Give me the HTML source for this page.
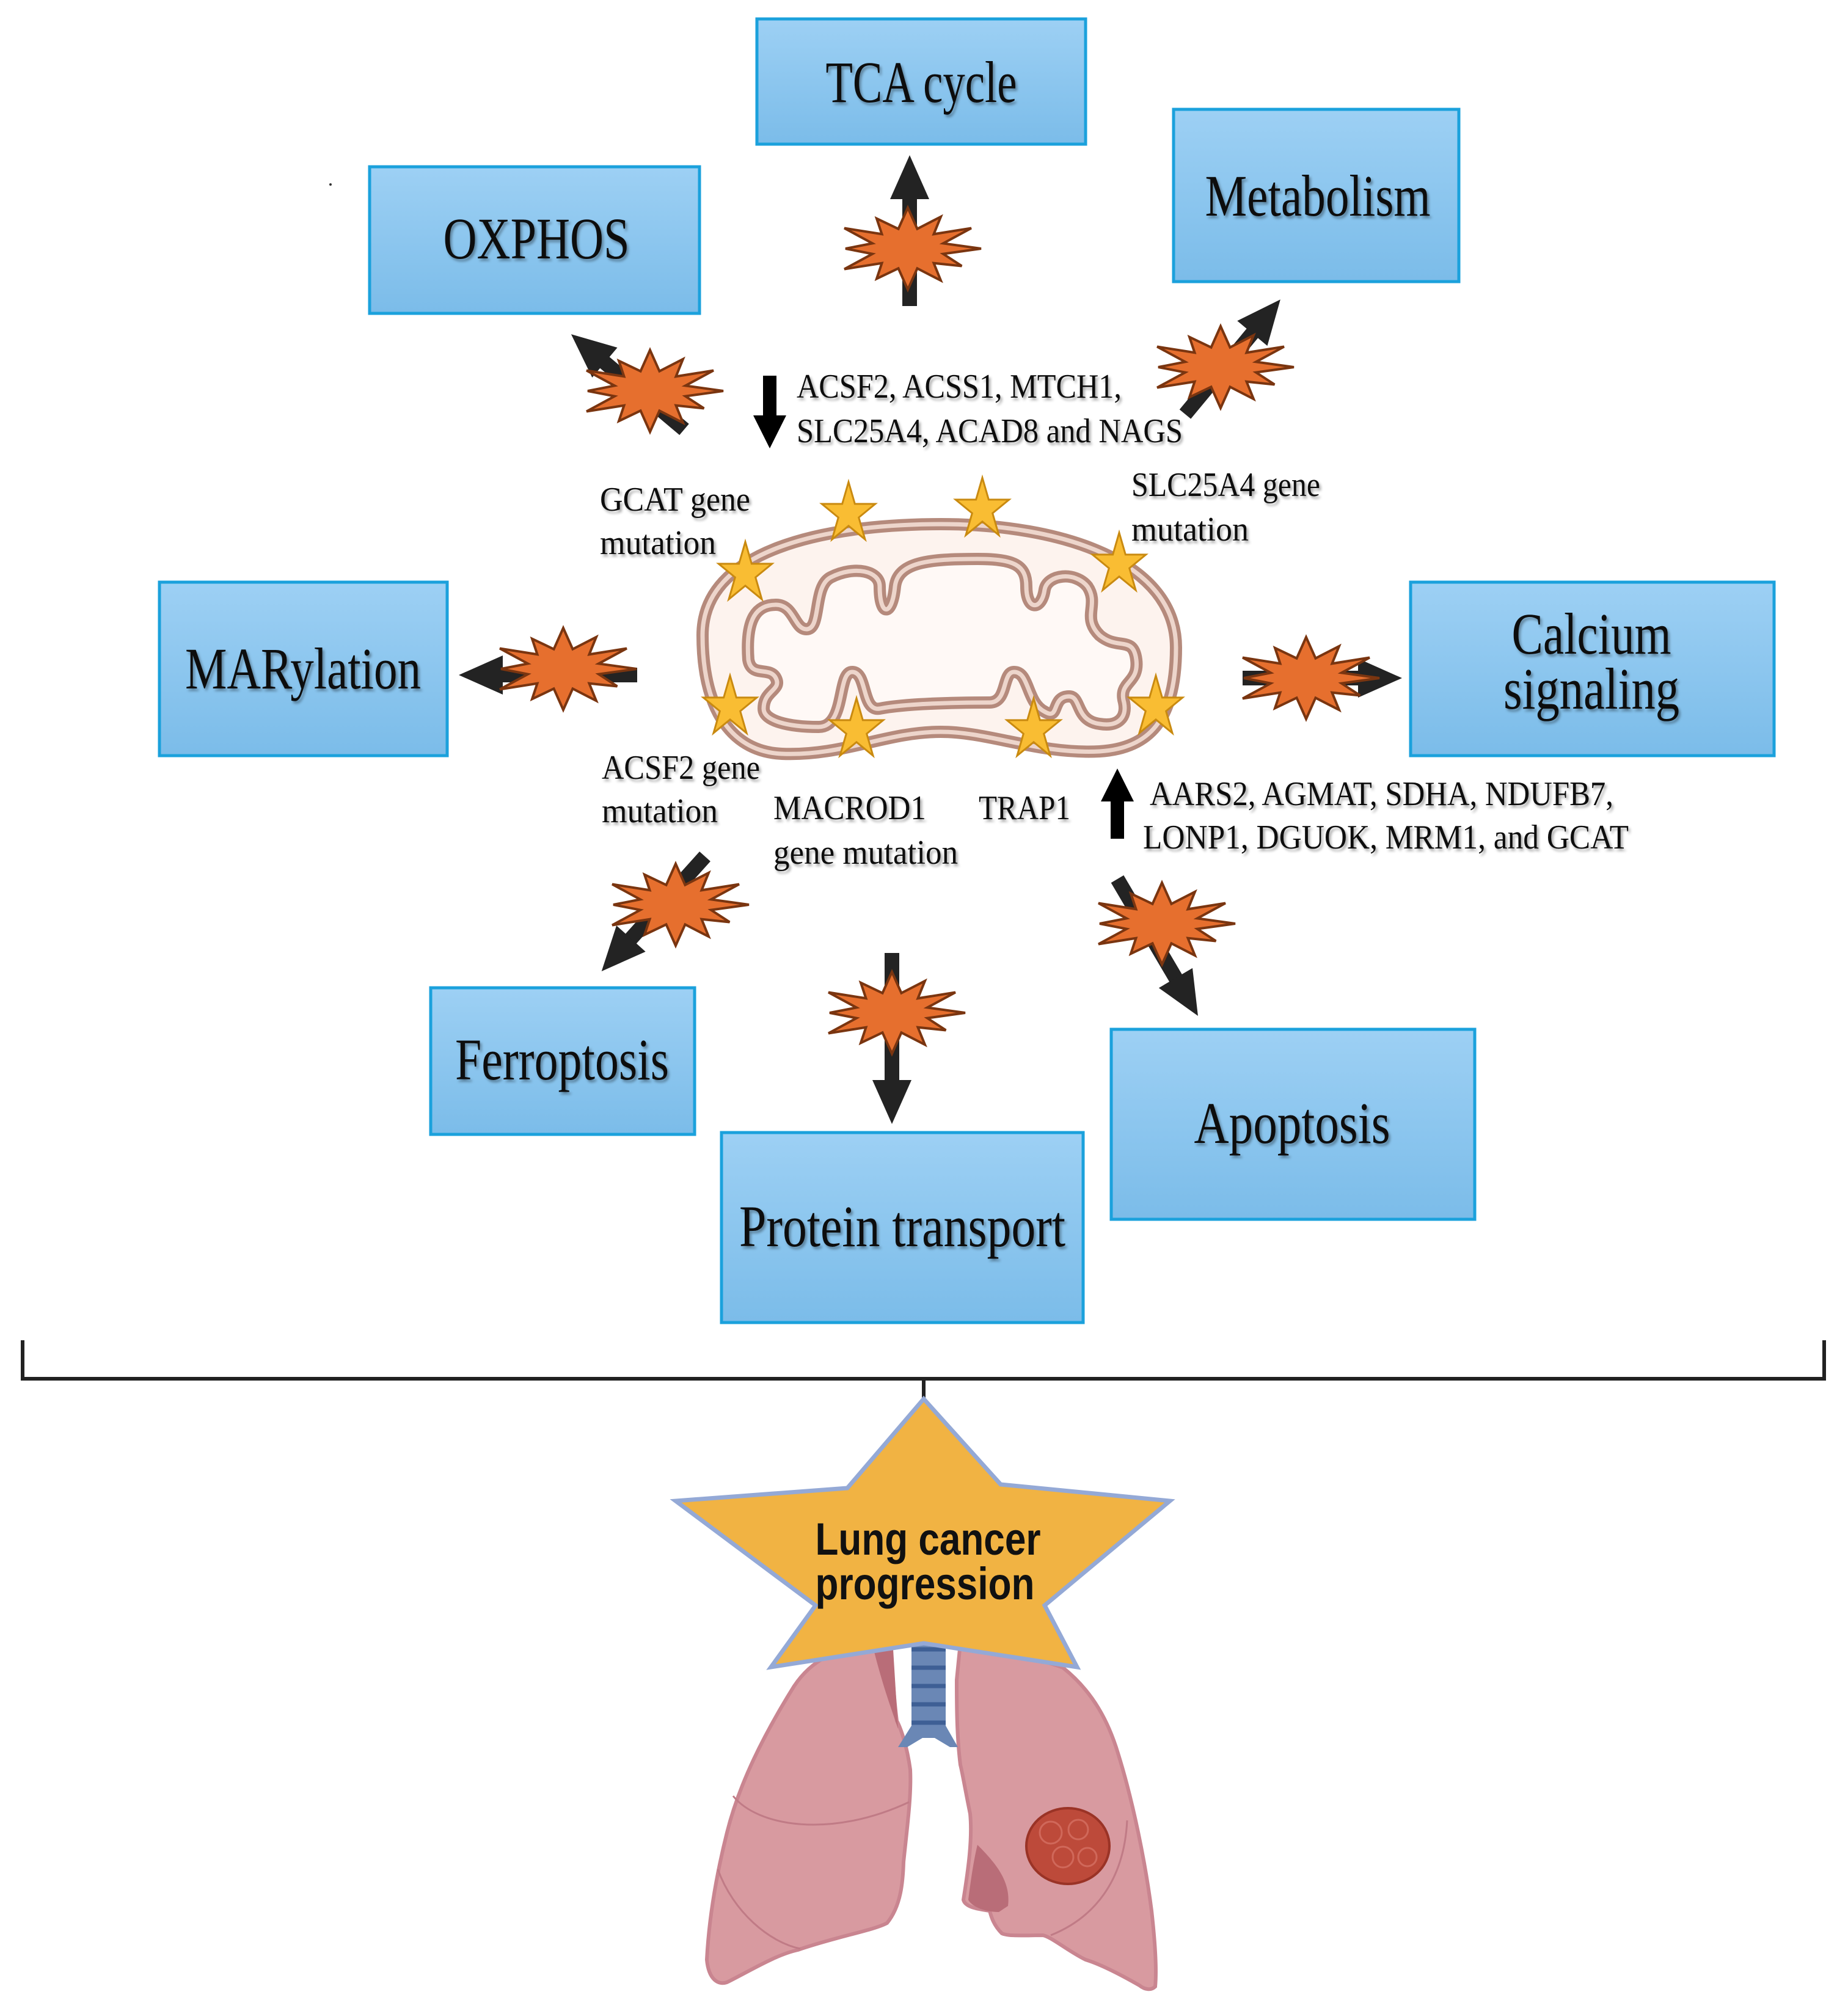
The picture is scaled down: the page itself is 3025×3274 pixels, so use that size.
<!DOCTYPE html>
<html><head><meta charset="utf-8"><style>html,body{margin:0;padding:0;background:#fff}svg{display:block}</style></head>
<body>
<svg width="3025" height="3274" viewBox="0 0 3025 3274" xmlns="http://www.w3.org/2000/svg">
<defs>
<linearGradient id="bx" x1="0" y1="0" x2="0" y2="1"><stop offset="0" stop-color="#9dd0f4"/><stop offset="1" stop-color="#7bbce9"/></linearGradient>
<filter id="sh" x="-10%" y="-10%" width="120%" height="130%"><feDropShadow dx="3" dy="4" stdDeviation="2" flood-color="#000" flood-opacity="0.35"/></filter>
<polygon id="burst" points="1,0 .483,.129 .736,.425 .354,.354 .45,.779 .129,.483 0,1 -.129,.483 -.425,.736 -.354,.354 -.866,.5 -.483,.129 -.85,0 -.483,-.129 -.866,-.5 -.354,-.354 -.425,-.736 -.129,-.483 0,-1 .129,-.483 .45,-.779 .354,-.354 .866,-.5 .483,-.129" fill="#e66f2e" stroke="#7a3510" stroke-width="4" vector-effect="non-scaling-stroke"/>
<polygon id="ystar" points="0,-1 .225,-.309 .951,-.309 .363,.118 .588,.809 0,.382 -.588,.809 -.363,.118 -.951,-.309 -.225,-.309" fill="#f9bd33" stroke="#c98a10" stroke-width="3" vector-effect="non-scaling-stroke"/>
</defs>

<g stroke="#1ba1dc" stroke-width="5" fill="url(#bx)">
<rect x="1239" y="31" width="538" height="205"/>
<rect x="605" y="273" width="540" height="240"/>
<rect x="1921" y="179" width="467" height="282"/>
<rect x="261" y="953" width="471" height="284"/>
<rect x="2309" y="953" width="595" height="284"/>
<rect x="705" y="1617" width="432" height="240"/>
<rect x="1181" y="1854" width="592" height="311"/>
<rect x="1819" y="1685" width="595" height="311"/>
</g>
<g font-family="'Liberation Serif',serif" font-size="96" fill="#111" text-anchor="middle" filter="url(#sh)" lengthAdjust="spacingAndGlyphs">
<text x="1508" y="167" textLength="313" lengthAdjust="spacingAndGlyphs">TCA cycle</text>
<text x="878" y="423" textLength="305" lengthAdjust="spacingAndGlyphs">OXPHOS</text>
<text x="2157" y="353" textLength="369" lengthAdjust="spacingAndGlyphs">Metabolism</text>
<text x="496" y="1127" textLength="386" lengthAdjust="spacingAndGlyphs">MARylation</text>
<text x="2605" y="1070" textLength="261" lengthAdjust="spacingAndGlyphs">Calcium</text>
<text x="2605" y="1160" textLength="288" lengthAdjust="spacingAndGlyphs">signaling</text>
<text x="920" y="1767" textLength="350" lengthAdjust="spacingAndGlyphs">Ferroptosis</text>
<text x="1477" y="2040" textLength="534" lengthAdjust="spacingAndGlyphs">Protein transport</text>
<text x="2115" y="1871" textLength="321" lengthAdjust="spacingAndGlyphs">Apoptosis</text>
</g>

<!-- mitochondrion -->
<path d="M1150,1040 C1150,900 1350,858 1540,858 C1740,858 1925,920 1925,1060 C1925,1180 1880,1225 1800,1230 C1700,1235 1620,1198 1540,1198 C1450,1198 1380,1238 1280,1234 C1190,1230 1150,1150 1150,1040 Z" fill="#fdf3ee" stroke="#b58a7c" stroke-width="20"/>
<path d="M1150,1040 C1150,900 1350,858 1540,858 C1740,858 1925,920 1925,1060 C1925,1180 1880,1225 1800,1230 C1700,1235 1620,1198 1540,1198 C1450,1198 1380,1238 1280,1234 C1190,1230 1150,1150 1150,1040 Z" fill="none" stroke="#edd5cb" stroke-width="7"/>
<g fill="#fff9f6">
<path id="inner" d="M1225,1080 C1220,1010 1240,990 1270,990 C1300,990 1300,1030 1320,1030 C1345,1030 1330,960 1360,945 C1400,925 1440,935 1440,960 C1440,1010 1460,1010 1465,960 C1470,920 1520,915 1600,915 C1660,915 1680,925 1680,960 C1680,1000 1705,1000 1710,965 C1715,940 1760,935 1780,960 C1800,990 1770,1010 1800,1040 C1830,1065 1855,1040 1860,1080 C1865,1120 1830,1115 1840,1150 C1845,1175 1830,1190 1800,1185 C1760,1180 1770,1140 1750,1140 C1720,1140 1735,1180 1710,1165 C1680,1150 1685,1100 1660,1100 C1640,1100 1650,1150 1620,1150 C1560,1150 1480,1152 1440,1160 C1410,1165 1420,1100 1395,1100 C1370,1100 1385,1190 1340,1190 C1290,1190 1250,1180 1250,1160 C1250,1130 1280,1130 1270,1110 C1260,1090 1230,1110 1225,1080 Z" stroke="#b58a7c" stroke-width="20"/>
</g>
<path d="M1225,1080 C1220,1010 1240,990 1270,990 C1300,990 1300,1030 1320,1030 C1345,1030 1330,960 1360,945 C1400,925 1440,935 1440,960 C1440,1010 1460,1010 1465,960 C1470,920 1520,915 1600,915 C1660,915 1680,925 1680,960 C1680,1000 1705,1000 1710,965 C1715,940 1760,935 1780,960 C1800,990 1770,1010 1800,1040 C1830,1065 1855,1040 1860,1080 C1865,1120 1830,1115 1840,1150 C1845,1175 1830,1190 1800,1185 C1760,1180 1770,1140 1750,1140 C1720,1140 1735,1180 1710,1165 C1680,1150 1685,1100 1660,1100 C1640,1100 1650,1150 1620,1150 C1560,1150 1480,1152 1440,1160 C1410,1165 1420,1100 1395,1100 C1370,1100 1385,1190 1340,1190 C1290,1190 1250,1180 1250,1160 C1250,1130 1280,1130 1270,1110 C1260,1090 1230,1110 1225,1080 Z" fill="none" stroke="#edd5cb" stroke-width="7"/>

<!-- yellow stars -->
<use href="#ystar" transform="translate(1220,939) scale(46,52)"/>
<use href="#ystar" transform="translate(1389,841) scale(46,52)"/>
<use href="#ystar" transform="translate(1608,834) scale(46,52)"/>
<use href="#ystar" transform="translate(1832,924) scale(46,52)"/>
<use href="#ystar" transform="translate(1195,1158) scale(46,52)"/>
<use href="#ystar" transform="translate(1402,1195) scale(46,52)"/>
<use href="#ystar" transform="translate(1692,1195) scale(46,52)"/>
<use href="#ystar" transform="translate(1892,1158) scale(46,52)"/>

<!-- arrows -->
<g fill="#232323">
<g transform="translate(1489,501) rotate(-90)"><rect x="0" y="-12" width="180" height="24"/><polygon points="175,-32 247,0 175,32"/></g>
<g transform="translate(1120,703) rotate(-139.9)"><rect x="0" y="-12" width="175" height="24"/><polygon points="170,-32 242,0 170,32"/></g>
<g transform="translate(1940,678) rotate(-50.3)"><rect x="0" y="-12" width="177" height="24"/><polygon points="172,-32 244,0 172,32"/></g>
<g transform="translate(1043,1105) rotate(180)"><rect x="0" y="-12" width="225" height="24"/><polygon points="220,-32 292,0 220,32"/></g>
<g transform="translate(2034,1110)"><rect x="0" y="-12" width="194" height="24"/><polygon points="189,-32 261,0 189,32"/></g>
<g transform="translate(1154,1402) rotate(132)"><rect x="0" y="-12" width="186" height="24"/><polygon points="181,-32 253,0 181,32"/></g>
<g transform="translate(1460,1560) rotate(90)"><rect x="0" y="-12" width="213" height="24"/><polygon points="208,-32 280,0 208,32"/></g>
<g transform="translate(1829,1439) rotate(59.5)"><rect x="0" y="-12" width="193" height="24"/><polygon points="188,-32 260,0 188,32"/></g>
</g>
<g fill="#000">
<g transform="translate(1260,615) rotate(90)"><rect x="0" y="-11" width="70" height="22"/><polygon points="65,-27 119,0 65,27"/></g>
<g transform="translate(1829,1373) rotate(-90)"><rect x="0" y="-11" width="66" height="22"/><polygon points="61,-27 115,0 61,27"/></g>
</g>

<!-- bursts -->
<use href="#burst" transform="translate(1486,407) scale(120,67)"/>
<use href="#burst" transform="translate(1064,640) scale(120,67)"/>
<use href="#burst" transform="translate(1998,601) scale(120,67)"/>
<use href="#burst" transform="translate(922,1095) scale(120,67)"/>
<use href="#burst" transform="translate(2138,1110) scale(120,67)"/>
<use href="#burst" transform="translate(1106,1481) scale(120,67)"/>
<use href="#burst" transform="translate(1460,1658) scale(120,67)"/>
<use href="#burst" transform="translate(1902,1512) scale(120,67)"/>

<!-- labels -->
<g font-family="'Liberation Serif',serif" font-size="56" fill="#111" filter="url(#sh)">
<text x="1304" y="651" textLength="532" lengthAdjust="spacingAndGlyphs">ACSF2, ACSS1, MTCH1,</text>
<text x="1304" y="724" textLength="632" lengthAdjust="spacingAndGlyphs">SLC25A4, ACAD8 and NAGS</text>
<text x="982" y="836" textLength="246" lengthAdjust="spacingAndGlyphs">GCAT gene</text>
<text x="982" y="907" textLength="190" lengthAdjust="spacingAndGlyphs">mutation</text>
<text x="1852" y="812" textLength="309" lengthAdjust="spacingAndGlyphs">SLC25A4 gene</text>
<text x="1852" y="885" textLength="192" lengthAdjust="spacingAndGlyphs">mutation</text>
<text x="985" y="1275" textLength="259" lengthAdjust="spacingAndGlyphs">ACSF2 gene</text>
<text x="985" y="1346" textLength="190" lengthAdjust="spacingAndGlyphs">mutation</text>
<text x="1266" y="1341" textLength="250" lengthAdjust="spacingAndGlyphs">MACROD1</text>
<text x="1266" y="1414" textLength="302" lengthAdjust="spacingAndGlyphs">gene mutation</text>
<text x="1602" y="1341" textLength="150" lengthAdjust="spacingAndGlyphs">TRAP1</text>
<text x="1882" y="1318" textLength="759" lengthAdjust="spacingAndGlyphs">AARS2, AGMAT, SDHA, NDUFB7,</text>
<text x="1871" y="1389" textLength="795" lengthAdjust="spacingAndGlyphs">LONP1, DGUOK, MRM1, and GCAT</text>
</g>

<!-- bracket -->
<path d="M37,2194 V2257 H2986 V2194 M1512,2257 V2290" fill="none" stroke="#222" stroke-width="6"/>

<!-- lungs -->
<path d="M1420,2690 C1370,2700 1330,2715 1300,2760 C1250,2840 1210,2920 1190,3000 C1170,3080 1160,3150 1157,3208 C1160,3240 1175,3250 1190,3245 C1230,3225 1270,3200 1306,3192 C1370,3170 1430,3160 1452,3148 C1475,3120 1478,3080 1479,3048 C1485,2990 1492,2940 1490,2897 C1485,2860 1475,2830 1468,2817 C1462,2770 1460,2720 1458,2686 Z" fill="#d89aa0" stroke="#c98590" stroke-width="6"/>
<path d="M1430,2700 C1445,2760 1460,2800 1470,2830 L1462,2700 Z" fill="#b96d78"/>
<path d="M1572,2690 C1620,2698 1700,2715 1740,2730 C1790,2770 1815,2820 1830,2870 C1855,2950 1875,3050 1885,3128 C1892,3190 1893,3230 1891,3252 C1885,3258 1875,3258 1865,3250 C1830,3230 1800,3215 1777,3208 C1750,3195 1720,3170 1707,3168 C1680,3168 1650,3170 1640,3165 C1625,3150 1622,3135 1620,3128 C1600,3125 1580,3122 1577,3110 C1585,3060 1592,3010 1588,2969 C1580,2930 1575,2900 1572,2889 C1566,2840 1566,2790 1566,2750 Z" fill="#d89aa0" stroke="#c98590" stroke-width="6"/>
<path d="M1600,3020 C1630,3050 1655,3080 1650,3120 L1635,3130 C1610,3130 1590,3120 1585,3110 C1590,3070 1595,3040 1600,3020 Z" fill="#b96d78"/>
<path d="M1200,2940 C1240,2990 1360,3010 1488,2950 M1175,3060 C1200,3130 1260,3180 1310,3190 M1845,2980 C1840,3080 1790,3140 1720,3168" fill="none" stroke="#c07b86" stroke-width="3"/>
<path d="M1492,2660 H1548 V2825 L1568,2860 H1555 L1530,2845 H1510 L1485,2860 H1470 L1492,2825 Z" fill="#6a87b5"/>
<g stroke="#3e5f95" stroke-width="7"><line x1="1492" y1="2700" x2="1548" y2="2700"/><line x1="1492" y1="2730" x2="1548" y2="2730"/><line x1="1492" y1="2760" x2="1548" y2="2760"/><line x1="1492" y1="2790" x2="1548" y2="2790"/><line x1="1492" y1="2820" x2="1548" y2="2820"/></g>
<ellipse cx="1748" cy="3022" rx="68" ry="62" fill="#bd4a3a" stroke="#9a3326" stroke-width="4"/>
<g fill="none" stroke="#d0685a" stroke-width="3"><circle cx="1720" cy="3000" r="18"/><circle cx="1765" cy="2995" r="16"/><circle cx="1740" cy="3040" r="17"/><circle cx="1780" cy="3040" r="15"/></g>

<!-- big star -->
<polygon points="1512,2290 1638,2430 1915,2457 1710,2628 1763,2729 1512,2690 1262,2729 1335,2628 1106,2457 1387,2436" fill="#f1b343" stroke="#94a9d6" stroke-width="7" stroke-linejoin="miter"/>
<g font-family="'Liberation Sans Narrow','Liberation Sans',sans-serif" font-weight="bold" font-size="74" fill="#111" text-anchor="middle">
<text x="1519" y="2545" textLength="369" lengthAdjust="spacingAndGlyphs">Lung cancer</text>
<text x="1514" y="2618" textLength="359" lengthAdjust="spacingAndGlyphs">progression</text>
</g>
<circle cx="541" cy="302" r="2" fill="#333"/>
</svg>
</body></html>
